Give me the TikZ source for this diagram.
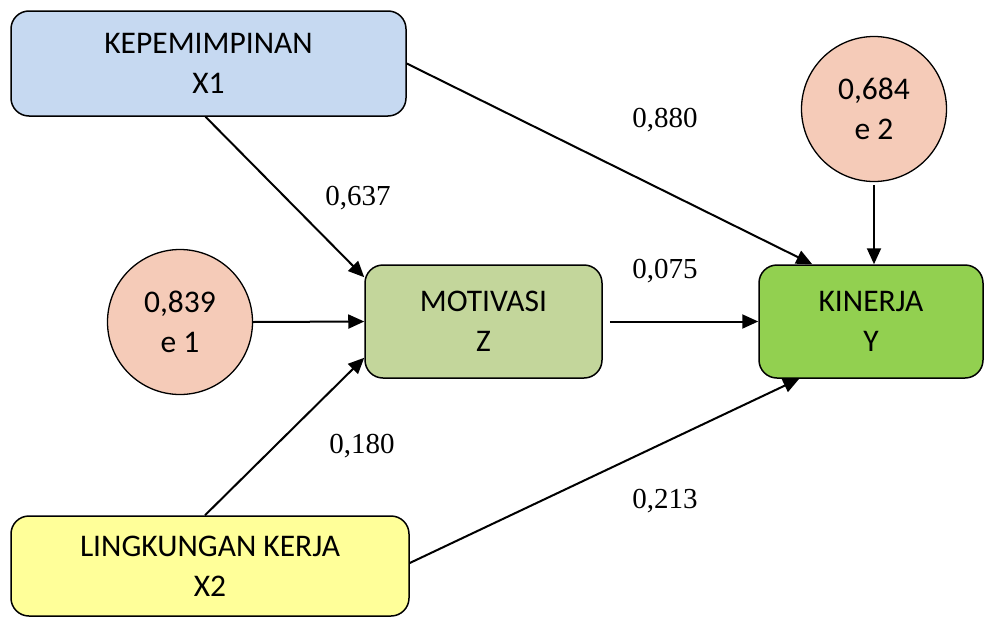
\documentclass[tikz,border=0pt]{standalone}
\usepackage{fontspec}
\setmainfont{Carlito}
\newfontfamily\tnr{Liberation Serif}
\usetikzlibrary{arrows.meta,calc}
\definecolor{cblue}{HTML}{C6D9F1}
\definecolor{cmot}{HTML}{C3D69B}
\definecolor{ckin}{HTML}{92D050}
\definecolor{cerr}{HTML}{F5CBB8}
\definecolor{cyel}{HTML}{FFFF99}
\begin{document}
\begin{tikzpicture}[x=1pt,y=-1pt,
  box/.style={draw=black,line width=1.5pt,rounded corners=18pt,align=center,
    font=\fontsize{31.5}{40}\selectfont,inner sep=0pt},
  err/.style={draw=black,line width=1.3pt,circle,fill=cerr,minimum size=145pt,
    align=center,font=\fontsize{31.5}{40}\selectfont,inner sep=0pt},
  arr/.style={line width=2pt,-{Triangle[length=16pt,width=14pt]}},
  lab/.style={font=\tnr\fontsize{29}{34}\selectfont,anchor=base,inner sep=0pt}]
\useasboundingbox (0,0) rectangle (985,616);
\node[box,fill=cblue,minimum width=395pt,minimum height=105pt] (x1) at (208.5,63.5) {KEPEMIMPINAN\\X1};
\node[box,fill=cmot,minimum width=237pt,minimum height=113pt] (mot) at (483.5,321.5) {MOTIVASI\\Z};
\node[box,fill=ckin,minimum width=224pt,minimum height=113pt] (kin) at (871,321.5) {KINERJA\\Y};
\node[box,fill=cyel,minimum width=398pt,minimum height=100pt] (x2) at (210,566) {LINGKUNGAN KERJA\\X2};
\node[err] (e1) at (180,322) {0,839\\e 1};
\node[err] (e2) at (874,109) {0,684\\e 2};
\draw[arr] (x1.south) ++(-3,0) coordinate (a1) -- ($(mot.north west)+(0,13)$);
\draw[arr] (x1.east) -- ($(kin.north west)+(54,0)$);
\draw[arr] (e1.east) -- (mot.west);
\draw[arr] ($(mot.east)+(7,0)$) -- (kin.west);
\draw[arr] ($(e2.south)+(0,3)$) -- (e2.south |- kin.north);
\draw[arr] (x2.north) ++(-5,0) coordinate (a2) -- ($(mot.south west)+(0,-21)$);
\draw[arr] ($(x2.east)+(0,-3)$) -- ($(kin.south west)+(41,0)$);
\node[lab] (l1) at (665,127) {0,880};
\node[lab] (l2) at (358,205) {0,637};
\node[lab] (l3) at (665,278) {0,075};
\node[lab] (l4) at (362,453) {0,180};
\node[lab] (l5) at (665,508) {0,213};
\end{tikzpicture}
\end{document}
